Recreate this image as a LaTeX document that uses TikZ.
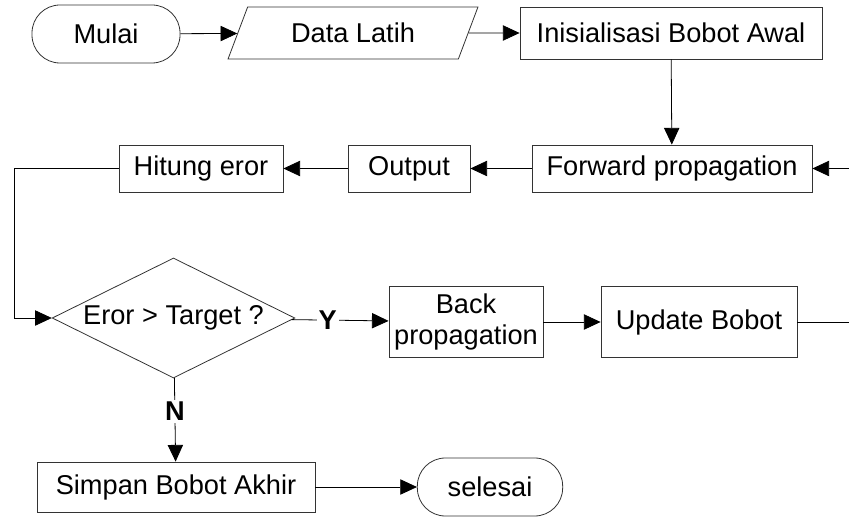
\documentclass[tikz,border=0pt]{standalone}
\usepackage{fontspec}
\setmainfont{Liberation Sans}
\usepackage{tikz}
\usetikzlibrary{arrows.meta,shapes.geometric}

\begin{document}
\begin{tikzpicture}[x=0.75pt,y=-0.75pt,->,>={Triangle[length=12.5pt,width=11.5pt]},semithick,
  font=\fontsize{20.4}{23.5}\selectfont,
  terminal/.style={draw=black!80,rectangle,rounded corners=21pt,minimum height=43.5pt,inner sep=0pt},
  proses/.style={draw=black!80,rectangle,minimum height=35.25pt,inner sep=0pt},
  io/.style={draw=black!80,trapezium,trapezium left angle=60,trapezium right angle=120,
    trapezium stretches=true,minimum width=187.5pt,minimum height=39pt,inner sep=0pt},
  keputusan/.style={draw=black!80,diamond,aspect=2,minimum width=182pt,minimum height=90pt,inner sep=0pt},
  jawab/.style={fill=white,font=\fontsize{20.4}{23.5}\selectfont\bfseries,inner sep=1.5pt}]
	\useasboundingbox (0,0) rectangle (849,520);

	\node [terminal, minimum width=111pt] (mulai) at (106,34) {Mulai};
	\node [io] (data) at (353,33) {Data Latih};
	\node [proses, minimum width=226.5pt, minimum height=39pt] (init) at (671,33) {Inisialisasi Bobot Awal};
	\node [proses, minimum width=210pt] (fwd) at (672,168.5) {Forward propagation};
	\node [proses, minimum width=91.5pt] (output) at (409,168.5) {Output};
	\node [proses, minimum width=123pt] (hitung) at (201,168.5) {Hitung eror};
	\node [keputusan] (cek) at (173.5,318) {Eror > Target ?};
	\node [proses, minimum width=115.5pt, minimum height=53pt, align=center] (back) at (466,322) {Back\\propagation};
	\node [proses, minimum width=147pt, minimum height=53pt] (update) at (699,322) {Update Bobot};
	\node [proses, minimum width=208.5pt, minimum height=37.5pt] (simpan) at (176,487) {Simpan Bobot Akhir};
	\node [terminal, minimum width=109pt] (selesai) at (490,487) {selesai};

	\coordinate (masukFwd) at (849,168.5);
	\coordinate (keluarUpd) at (849,322);
	\coordinate (belok) at (14,168.5);

  \path (mulai) edge (data);
  \path (data) edge (init);
  \path (init) edge (fwd);
  \path (masukFwd) edge (fwd);
  \path (fwd) edge (output);
  \path (output) edge (hitung);
  \draw (hitung) -- (belok) |- (cek.west);
  \path (cek) edge node [jawab, pos=0.37] {Y} (back);
  \path (back) edge (update);
  \path (update) edge [-] (keluarUpd);
  \path (cek) edge node [jawab, pos=0.4] {N} (simpan);
  \path (simpan) edge (selesai);

  \end{tikzpicture}
\end{document}
